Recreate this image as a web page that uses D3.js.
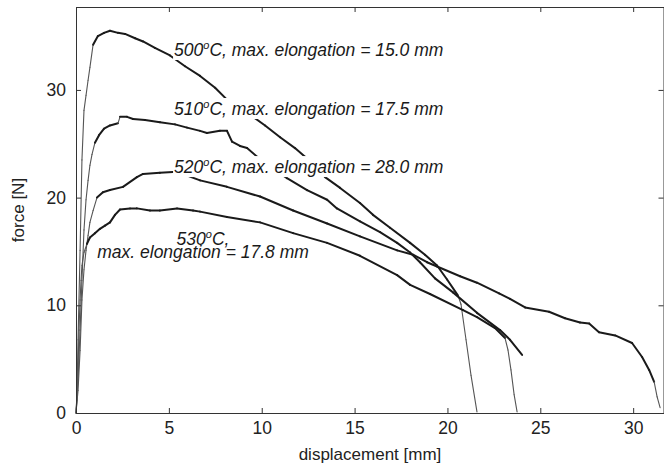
<!DOCTYPE html>
<html>
<head>
<meta charset="utf-8">
<script src="https://cdn.jsdelivr.net/npm/d3@7/dist/d3.min.js"></script>
<style>
	body { margin: 0; background: #fff }
	svg { display: block; font-family: "Liberation Sans", Arial, Helvetica, sans-serif }
	.axis path, .axis line { stroke: #333 }
	.axis text { fill: #222; font-size: 17.5px }
</style>
</head>
<body>
<svg width="664" height="475"></svg>
<script>
'use strict'

// displacement [mm], force [N]
let s500 = [
	[0, 0], [0.05, 1.7], [0.11, 6.8], [0.22, 15.1], [0.32, 23.5], [0.43, 28.1], [0.54, 29.5],
	[0.65, 30.9], [0.75, 32.1], [0.92, 34.2], [1.18, 35.0], [1.51, 35.3], [1.83, 35.5],
	[2.26, 35.3], [2.64, 35.2], [3.18, 34.8], [3.61, 34.5], [4.25, 33.9], [5.06, 33.2],
	[5.87, 32.2], [6.68, 31.3], [7.49, 30.2], [8.13, 29.1], [8.83, 28.3], [9.37, 27.7],
	[10.18, 26.7], [10.99, 25.6], [11.79, 24.6], [12.33, 23.8], [12.87, 22.8], [13.41, 21.9],
	[14.22, 20.9], [15.29, 19.5], [15.99, 18.4], [16.91, 17.2], [17.99, 15.8], [18.79, 14.7],
	[19.44, 13.7], [19.98, 12.4], [20.57, 10.9], [20.73, 10.1], [21.0, 6.8], [21.27, 3.5],
	[21.59, 0.1] ]
let s510 = [
	[0, 0], [0.11, 3.1], [0.22, 7.7], [0.32, 12.3], [0.43, 17.0], [0.54, 19.8], [0.65, 21.6],
	[0.75, 23.0], [0.86, 24.0], [1.02, 25.1], [1.24, 25.8], [1.51, 26.4], [1.83, 26.7],
	[2.26, 26.9], [2.37, 27.5], [2.75, 27.5], [3.07, 27.3], [3.72, 27.2], [4.52, 27.0],
	[5.33, 26.8], [5.98, 26.5], [6.68, 26.2], [7.05, 26.0], [7.75, 26.2], [8.13, 26.2],
	[8.40, 25.2], [8.83, 24.8], [9.21, 24.6], [9.75, 23.8], [10.18, 23.2], [11.36, 21.8],
	[12.44, 20.7], [13.52, 19.8], [14.05, 19.0], [15.29, 17.8], [16.37, 16.8], [17.29, 15.8],
	[17.99, 14.9], [18.52, 14.0], [19.33, 12.5], [20.30, 11.2], [21.59, 9.3], [22.83, 7.7],
	[23.37, 6.8], [24.02, 5.4] ]
let s520 = [
	[0, 0], [0.11, 2.1], [0.22, 5.8], [0.32, 10.5], [0.43, 13.3], [0.54, 15.1], [0.65, 16.5],
	[0.75, 17.7], [0.92, 18.8], [1.13, 20.0], [1.45, 20.5], [1.83, 20.7], [2.53, 21.0],
	[3.28, 21.9], [3.61, 22.2], [4.52, 22.3], [5.44, 22.4], [6.68, 21.6], [8.13, 21.0],
	[9.91, 20.1], [11.69, 18.8], [13.52, 17.6], [15.29, 16.4], [17.29, 15.1], [18.15, 14.7],
	[18.90, 14.0], [19.44, 13.6], [20.68, 12.7], [21.59, 12.1], [22.78, 11.1], [23.37, 10.6],
	[24.18, 9.8], [25.47, 9.4], [26.33, 8.8], [27.14, 8.4], [27.63, 8.3], [28.16, 7.5],
	[29.03, 7.2], [29.94, 6.5], [30.48, 5.2], [30.86, 4.0], [31.13, 2.9], [31.29, 1.5],
	[31.45, 0.5] ]
let s530 = [
	[0, 0], [0.05, 1.2], [0.11, 4.0], [0.16, 7.7], [0.22, 10.5], [0.27, 12.3], [0.32, 13.7],
	[0.43, 14.9], [0.59, 15.7], [0.75, 16.3], [1.02, 16.7], [1.29, 17.1], [1.56, 17.4],
	[1.83, 17.7], [2.10, 18.4], [2.37, 18.9], [2.91, 19.0], [3.28, 19.0], [3.98, 18.8],
	[4.52, 18.8], [5.44, 19.0], [6.30, 18.8], [6.68, 18.7], [8.13, 18.2], [9.91, 17.7],
	[11.69, 16.7], [13.52, 15.8], [15.29, 14.6], [17.29, 12.8], [17.99, 11.9], [19.06, 11.05],
	[20.84, 9.56], [21.59, 8.91], [22.56, 7.89], [23.10, 6.96], [23.26, 5.85], [23.42, 4.0],
	[23.59, 1.7], [23.75, 0.1] ]

let temps = ['500', '510', '520', '530'],
	elongations = ['15.0', '17.5', '28.0', '17.8'],
	series = [s500, s510, s520, s530],
	x_ticks = [0, 5, 10, 15, 20, 25, 30],
	y_ticks = [0, 10, 20, 30]

// label anchors in data units (mm, N): [x, baseline y, anchor]
let label_at = [
	[[5.28, 33.15, 'start']],
	[[5.28, 27.67, 'start']],
	[[5.28, 22.28, 'start']],
	[[6.84, 15.60, 'middle'], [6.84, 14.39, 'middle']] ]

let box = {left: 76, right: 664, top: 7, bottom: 413},
	x = d3.scaleLinear().domain([0, 31.66]).range([box.left, box.right]),
	y = d3.scaleLinear().domain([0, 37.7]).range([box.bottom, box.top])

let svg = d3.select('svg')

// curves, steep parts drawn thinner like in the scan
let segs = series.map(s => d3.pairs(s)).flat().map(([a, b]) => {
	let dx = Math.abs(x(b[0]) - x(a[0])), dy = Math.abs(y(b[1]) - y(a[1]))
	return {a: a, b: b, steep: dy > 2.5 * dx} })
svg.append('g').attr('class', 'curves').selectAll('line').data(segs).join('line')
	.attr('x1', d => x(d.a[0])).attr('y1', d => y(d.a[1]))
	.attr('x2', d => x(d.b[0])).attr('y2', d => y(d.b[1]))
	.attr('stroke', d => d.steep ? '#555' : '#1a1a1a')
	.attr('stroke-width', d => d.steep ? 1.1 : 2)
	.attr('stroke-linecap', 'round')

// axes box
svg.append('g').attr('class', 'axis').attr('transform', `translate(0 ${box.bottom})`)
	.call(d3.axisBottom(x).tickValues(x_ticks).tickSizeInner(-5).tickSizeOuter(0).tickPadding(9))
svg.append('g').attr('class', 'axis').attr('transform', `translate(${box.left} 0)`)
	.call(d3.axisLeft(y).tickValues(y_ticks).tickSizeInner(-5).tickSizeOuter(0).tickPadding(10))
svg.append('g').attr('class', 'axis').attr('transform', `translate(0 ${box.top})`)
	.call(d3.axisTop(x).tickValues(x_ticks).tickSizeInner(-5).tickSizeOuter(0).tickFormat(''))
svg.append('g').attr('class', 'axis').attr('transform', `translate(${box.right - 0.5} 0)`)
	.call(d3.axisRight(y).tickValues(y_ticks).tickSizeInner(-5).tickSizeOuter(0).tickFormat(''))
svg.selectAll('.axis .domain').attr('stroke', '#333')

svg.append('text').attr('x', (box.left + box.right) / 2).attr('y', 460)
	.attr('text-anchor', 'middle').attr('font-size', 17).attr('fill', '#222')
	.text('displacement [mm]')
svg.append('text').attr('transform', `translate(24 ${(box.top + box.bottom) / 2}) rotate(-90)`)
	.attr('text-anchor', 'middle').attr('font-size', 17).attr('fill', '#222')
	.text('force [N]')

// annotations with white background boxes (all boxes under all texts)
let label_lines = temps.map((t, n) => n < 3
	? [[t, `, max. elongation = ${elongations[n]} mm`]]
	: [[t, ','], [null, `max. elongation = ${elongations[n]} mm`]])

let ann = svg.append('g').attr('class', 'labels')
	.attr('font-style', 'italic').attr('font-size', 17.5).attr('fill', '#1a1a1a'),
	ann_bg = ann.append('g'), ann_fg = ann.append('g')
label_lines.forEach((lines, n) => lines.forEach(([t, rest], k) => {
	let [lx, ly, anchor] = label_at[n][k],
		txt = ann_fg.append('text').attr('x', x(lx)).attr('y', y(ly)).attr('text-anchor', anchor)
	if (t) {
		txt.append('tspan').text(t)
		txt.append('tspan').attr('font-size', 11).attr('dy', -7).text('o')
		txt.append('tspan').attr('dy', 7).text('C' + rest) }
	else txt.text(rest)
	let bb = txt.node().getBBox()
	ann_bg.append('rect').attr('x', bb.x - 1).attr('y', bb.y)
		.attr('width', bb.width + 2).attr('height', bb.height).attr('fill', '#fff') }))
</script>
</body>
</html>
